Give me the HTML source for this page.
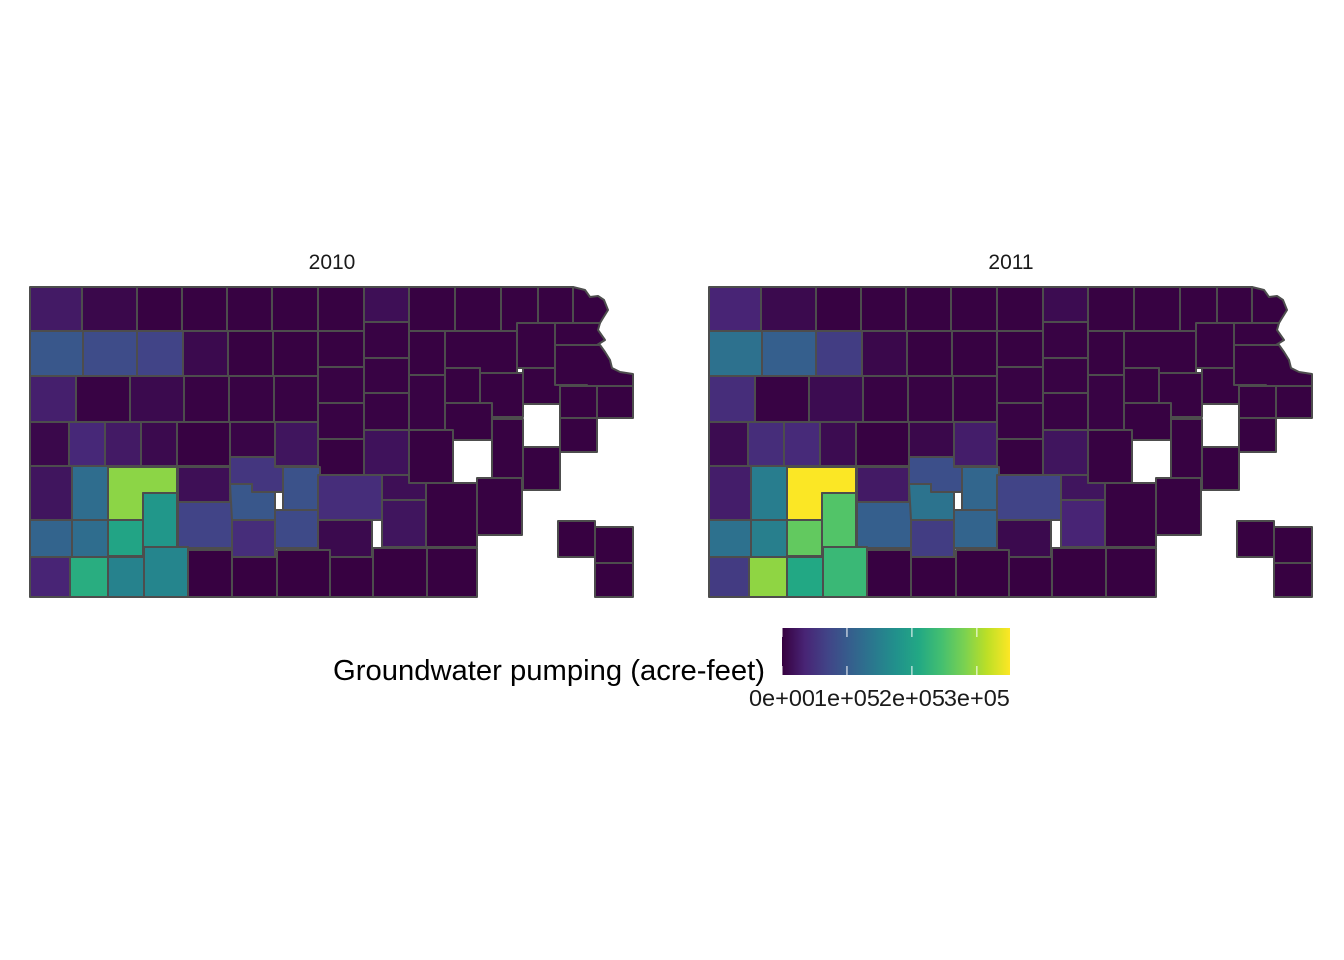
<!DOCTYPE html>
<html><head><meta charset="utf-8"><style>
body{margin:0;background:#fff;}
svg{display:block;font-family:"Liberation Sans",Arial,sans-serif;}
</style></head><body>
<svg id="chart" width="1344" height="960" viewBox="0 0 1344 960">
<defs><linearGradient id="vir" x1="0" x2="1" y1="0" y2="0">
<stop offset="0" stop-color="#36003f"/><stop offset="0.1" stop-color="#482475"/><stop offset="0.2" stop-color="#414487"/><stop offset="0.3" stop-color="#355f8d"/><stop offset="0.4" stop-color="#2a788e"/><stop offset="0.5" stop-color="#21918c"/><stop offset="0.6" stop-color="#22a884"/><stop offset="0.7" stop-color="#44bf70"/><stop offset="0.8" stop-color="#7ad151"/><stop offset="0.9" stop-color="#bddf26"/><stop offset="1" stop-color="#fde725"/>
</linearGradient></defs>
<text x="332" y="269" font-size="21" text-anchor="middle" fill="#1a1a1a">2010</text>
<text x="1011" y="269" font-size="21" text-anchor="middle" fill="#1a1a1a">2011</text>
<g id="map2010"></g>
<g id="map2011"></g>
<text x="333" y="680" font-size="29" textLength="432" lengthAdjust="spacingAndGlyphs" fill="#000">Groundwater pumping (acre-feet)</text>
<rect x="782" y="628" width="228" height="47" fill="url(#vir)"/>
<g id="legend-ticks"></g>
</svg>
<script>
// county ids
const countyIds = ["a1","a2","a3","a4","a5","a6","a7","a8","a9","a10","a11","a12","a13",
"b1","b2","b3","b4","b5","b6","b7","b8","b9","b10","b11","b12",
"c1","c2","c3","c4","c5","c6","c7","c8","c9","c10","c11","c12","c13",
"d1","d2","d3","d4","d5","d6","d7","d8","d9","d10","d11","d12","d13",
"e1","e2","eL","e3","e4","e5","e6","e7","e8","e9","e10","e11","e12","e13","e14","e15","e16",
"f1","f2","f3","f4","f5","f6","f7","f8",
"g1","g2","g3","g4","g5","g6","g7","g8","g9","g10","i1","i2","i3"];
const values2010 = [25000,8000,2000,2000,2000,2000,2000,15000,2000,2000,2000,2000,2000,
95000,80000,70000,10000,2000,2000,2000,3000,2000,2000,2000,2000,
30000,3000,10000,3000,3000,3000,3000,3000,3000,2000,2000,2000,2000,
8000,40000,25000,10000,2000,5000,20000,3000,3000,2000,2000,2000,2000,
20000,125000,290000,185000,15000,70000,55000,95000,88000,78000,45000,18000,45000,15000,2000,2000,2000,
112000,125000,205000,10000,20000,2000,2000,2000,
35000,218000,155000,158000,1000,1000,1000,1000,1000,1000,1000,1000,1000];
const values2011 = [35000,10000,2000,2000,2000,2000,2000,12000,2000,2000,2000,2000,2000,
130000,105000,63000,8000,2000,2000,2000,3000,2000,2000,2000,2000,
45000,3000,12000,3000,3000,3000,3000,3000,3000,2000,2000,2000,2000,
12000,45000,42000,12000,2000,8000,28000,3000,3000,2000,2000,2000,2000,
28000,147000,350000,255000,25000,105000,85000,133000,115000,112000,63000,20000,70000,20000,2000,2000,2000,
130000,150000,265000,10000,35000,2000,2000,2000,
60000,292000,210000,235000,1000,1000,1000,1000,1000,1000,1000,1000,1000];
const legendTicks = [0,100000,200000,300000];
const legendLabels = ["0e+00","1e+05","2e+05","3e+05"];
const scaleMax = 351000;

// county outlines (map geometry, left panel coordinates)
const R = (a,b,c,d)=>[[a,b],[c,b],[c,d],[a,d]];
const shapes = {
a1:R(30,287,82,331),a2:R(82,287,137,331),a3:R(137,287,182,331),a4:R(182,287,227,331),a5:R(227,287,272,331),a6:R(272,287,318,331),a7:R(318,287,364,331),a8:R(364,287,409,322),a9:R(409,287,455,331),a10:R(455,287,501,331),a11:R(501,287,538,331),a12:R(538,287,573,323),
a13:[[573,287],[585,290],[590,297],[598,296],[604,300],[608,310],[603,318],[600,323],[573,323]],
b1:R(30,331,83,376),b2:R(83,331,137,376),b3:R(137,331,183,376),b4:R(183,331,228,376),b5:R(228,331,273,376),b6:R(273,331,318,376),b7:R(318,331,364,367),b8:R(364,322,409,358),b9:R(409,331,445,375),
b10:[[445,331],[517,331],[517,373],[480,373],[480,368],[445,368]],
b11:R(517,323,555,368),b12:[[555,323],[600,323],[598,330],[605,340],[597,345],[555,345]],
c1:R(30,376,76,422),c2:R(76,376,130,422),c3:R(130,376,184,422),c4:R(184,376,229,422),c5:R(229,376,274,422),c6:R(274,376,318,422),c7:R(318,367,364,403),c8:R(364,358,409,393),c9:R(409,375,445,430),c10:R(445,368,480,403),c11:R(480,373,523,417),c12:R(523,368,560,404),
c13:[[555,345],[600,345],[605,352],[610,360],[612,368],[620,372],[633,374],[633,386],[597,386],[597,390],[587,390],[587,385],[555,385]],
d1:R(30,422,69,466),d2:R(69,422,105,466),d3:R(105,422,141,466),d4:R(141,422,177,466),d5:R(177,422,230,466),d6:R(230,422,275,457),d7:R(275,422,320,466),d8:R(318,403,364,439),d9:R(364,393,409,430),d10:R(445,403,492,440),d11:R(560,386,597,418),d12:R(597,386,633,418),d13:R(318,439,364,475),
e1:R(30,466,72,520),e2:R(72,466,108,520),
eL:[[108,467],[177,467],[177,493],[143,493],[143,520],[108,520]],
e3:R(143,493,177,547),e4:R(178,467,230,502),e5:R(178,502,232,548),
e6:[[230,457],[275,457],[275,467],[283,467],[283,492],[252,492],[252,484],[230,484]],
e7:[[230,484],[252,484],[252,492],[275,492],[275,520],[232,520]],
e8:R(283,467,320,510),e9:R(275,510,320,548),e10:R(232,520,275,557),
e11:R(364,430,409,475),e12:R(318,475,382,520),e13:R(382,475,426,500),e14:R(409,430,453,483),e15:R(492,419,523,478),e16:R(523,447,560,490),
f1:R(30,520,72,557),f2:R(72,520,108,557),f3:R(108,520,143,556),f4:R(318,520,372,557),f5:R(382,500,426,547),f6:R(426,483,477,547),f7:R(477,478,522,535),f8:R(560,418,597,452),
g1:R(30,557,70,597),g2:R(70,557,108,597),g3:R(108,557,144,597),g4:R(144,547,188,597),g5:R(188,550,232,597),g6:R(232,557,277,597),g7:R(277,550,330,597),g8:R(330,557,373,597),g9:R(373,548,427,597),g10:R(427,548,477,597),
i1:R(558,521,595,557),i2:R(595,527,633,563),i3:R(595,563,633,597)
};

const stops=[[54,0,63],[72,36,117],[65,68,135],[53,95,141],[42,120,142],[33,145,140],[34,168,132],[68,191,112],[122,209,81],[189,223,38],[253,231,37]];
function colorScale(v){
  let t=Math.max(0,Math.min(1,(v||0)/scaleMax))*10;
  let i=Math.min(9,Math.floor(t)),f=t-i;
  const c=stops[i].map((s,k)=>Math.round(s+(stops[i+1][k]-s)*f));
  return `rgb(${c[0]},${c[1]},${c[2]})`;
}
const NS="http://www.w3.org/2000/svg";
function drawMap(gid,vals,dx,year){
  const g=document.getElementById(gid);
  countyIds.forEach((id,i)=>{
    if(!shapes[id]) return;
    const p=document.createElementNS(NS,"polygon");
    p.setAttribute("points",shapes[id].map(q=>(q[0]+dx)+","+q[1]).join(" "));
    p.setAttribute("fill",colorScale(vals[i]));
    p.setAttribute("stroke","#4d4d4d");
    p.setAttribute("stroke-width","2");
    p.setAttribute("stroke-linejoin","round");
    
    
    g.appendChild(p);
  });
}
drawMap("map2010",values2010,0,"2010");
drawMap("map2011",values2011,679,"2011");

const lg=document.getElementById("legend-ticks");
const lx=v=>782+v/scaleMax*228;
legendTicks.forEach((v,i)=>{
  const x=lx(v);
  [[628,637],[666,675]].forEach(([a,b])=>{
    const l=document.createElementNS(NS,"line");
    l.setAttribute("x1",x);l.setAttribute("x2",x);l.setAttribute("y1",a);l.setAttribute("y2",b);
    l.setAttribute("stroke","#fff");l.setAttribute("stroke-width","1");
    
    
    lg.appendChild(l);
  });
  const t=document.createElementNS(NS,"text");
  t.setAttribute("x",x);t.setAttribute("y",706);t.setAttribute("font-size","23.5");
  t.setAttribute("text-anchor","middle");t.setAttribute("fill","#1a1a1a");
  t.textContent=legendLabels[i];
  
  
  lg.appendChild(t);
});
</script>
</body></html>
